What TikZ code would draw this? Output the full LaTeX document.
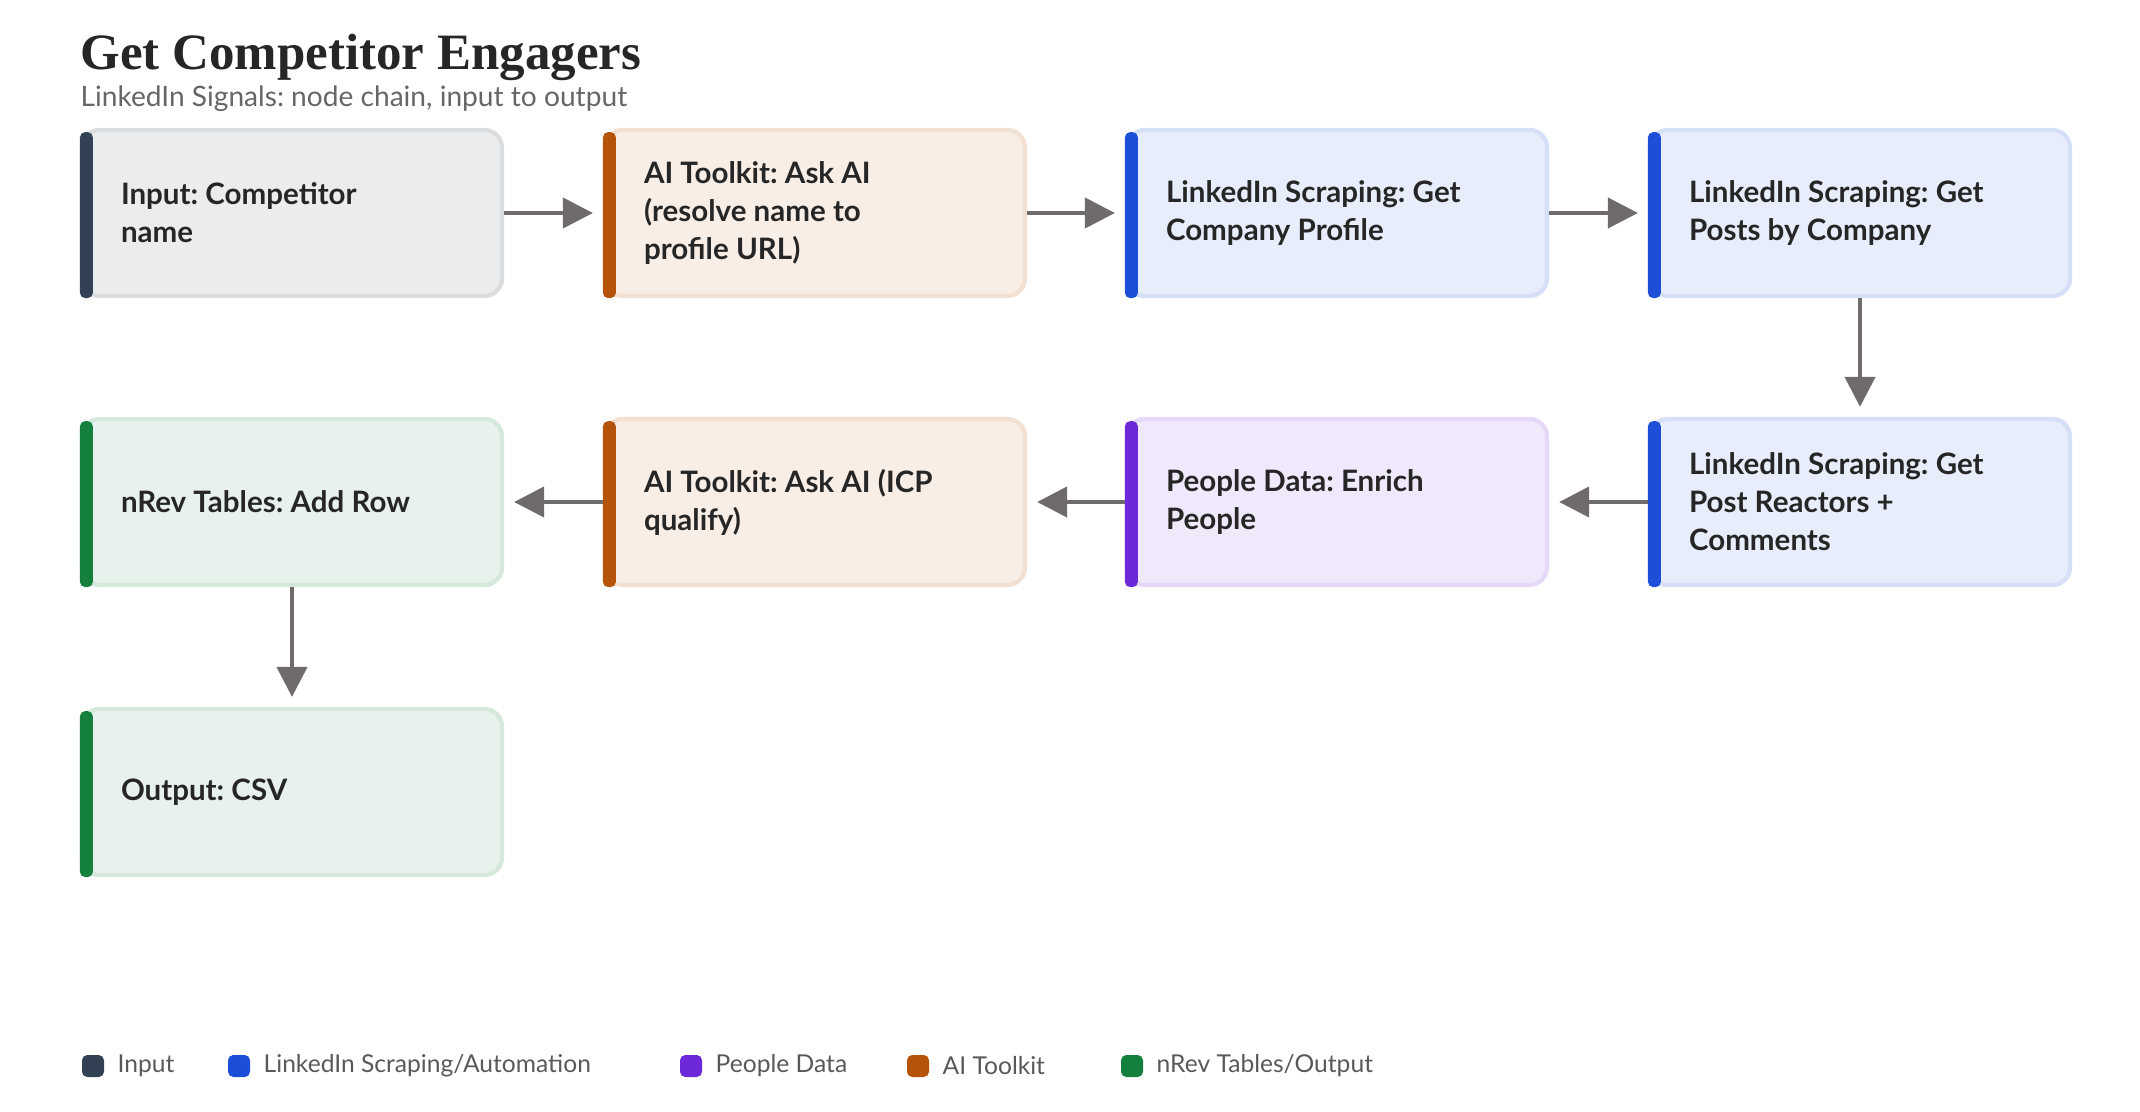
\documentclass[tikz,border=0pt]{standalone}
\usepackage{fontspec}
\setmainfont{Lato}
\newfontfamily\titlefont{Liberation Serif}
\usetikzlibrary{positioning,arrows.meta}
\frenchspacing

\definecolor{clrinput}{HTML}{334155}
\definecolor{clrlinked}{HTML}{1D4ED8}
\definecolor{clrpeople}{HTML}{6D28D9}
\definecolor{clrai}{HTML}{B45309}
\definecolor{clrtables}{HTML}{15803D}
\definecolor{clrarrow}{HTML}{706B6B}

\tikzset{
	box/.style={draw=#1!18, line width=1.2pt, fill=#1!10, rounded corners=5pt,
		minimum width=4.2cm, minimum height=1.66cm, text width=3.42cm,
		align=flush left, inner sep=0pt, font=\fontsize{8.4}{10.8}\selectfont\bfseries,
		text=black!85},
	link/.style={-{Triangle[length=0.3cm,width=0.3cm]}, clrarrow, line width=1.2pt, shorten >=0.1cm},
	legtext/.style={font=\fontsize{7}{8}\selectfont, text=black!65, anchor=west, inner sep=0pt},
}

% \flowbox{name}{x,y}{text}{color}
\newcommand*{\flowbox}[4]{
	\node[box=#4] (#1) at (#2) {\parbox{3.05cm}{\raggedright\hyphenpenalty=10000 #3}};
	\fill[#4, rounded corners=1.5pt] (#1.south west) rectangle ++(0.13,1.66);
}

\begin{document}
\begin{tikzpicture}
\useasboundingbox (0,0) rectangle (21.40,-11.12);

\node[anchor=base west, inner sep=0pt, font=\titlefont\fontsize{14.5}{16}\selectfont\bfseries, text=black!85] (title) at (0.80,-0.70) {Get Competitor Engagers};
\node[anchor=base west, inner sep=0pt, font=\fontsize{8}{9}\selectfont, text=black!60] (subtitle) at (0.80,-1.07) {LinkedIn Signals: node chain, input to output};

\flowbox{input}{2.92,-2.13}{Input: Competitor name}{clrinput}
\flowbox{resolve}{8.15,-2.13}{AI Toolkit: Ask AI (resolve name to profile URL)}{clrai}
\flowbox{profile}{13.37,-2.13}{LinkedIn Scraping: Get Company Profile}{clrlinked}
\flowbox{posts}{18.60,-2.13}{LinkedIn Scraping: Get Posts by Company}{clrlinked}
\flowbox{reactors}{18.60,-5.02}{LinkedIn Scraping: Get Post Reactors + Comments}{clrlinked}
\flowbox{enrich}{13.37,-5.02}{People Data: Enrich People}{clrpeople}
\flowbox{qualify}{8.15,-5.02}{AI Toolkit: Ask AI (ICP qualify)}{clrai}
\flowbox{addrow}{2.92,-5.02}{nRev Tables: Add Row}{clrtables}
\flowbox{output}{2.92,-7.92}{Output: CSV}{clrtables}

\draw[link] (input) -- (resolve);
\draw[link] (resolve) -- (profile);
\draw[link] (profile) -- (posts);
\draw[link] (posts) -- (reactors);
\draw[link] (reactors) -- (enrich);
\draw[link] (enrich) -- (qualify);
\draw[link] (qualify) -- (addrow);
\draw[link] (addrow) -- (output);

% legend
\foreach \x/\clr/\txt in {0.82/clrinput/Input, 2.28/clrlinked/{LinkedIn Scraping/Automation},
	6.80/clrpeople/People Data, 9.07/clrai/AI Toolkit, 11.21/clrtables/{nRev Tables/Output}}{
	\fill[\clr, rounded corners=1.5pt] (\x,-10.55) rectangle ++(0.22,-0.22);
	\node[legtext] at (\x+0.35,-10.66) {\txt};
}
\end{tikzpicture}
\end{document}
